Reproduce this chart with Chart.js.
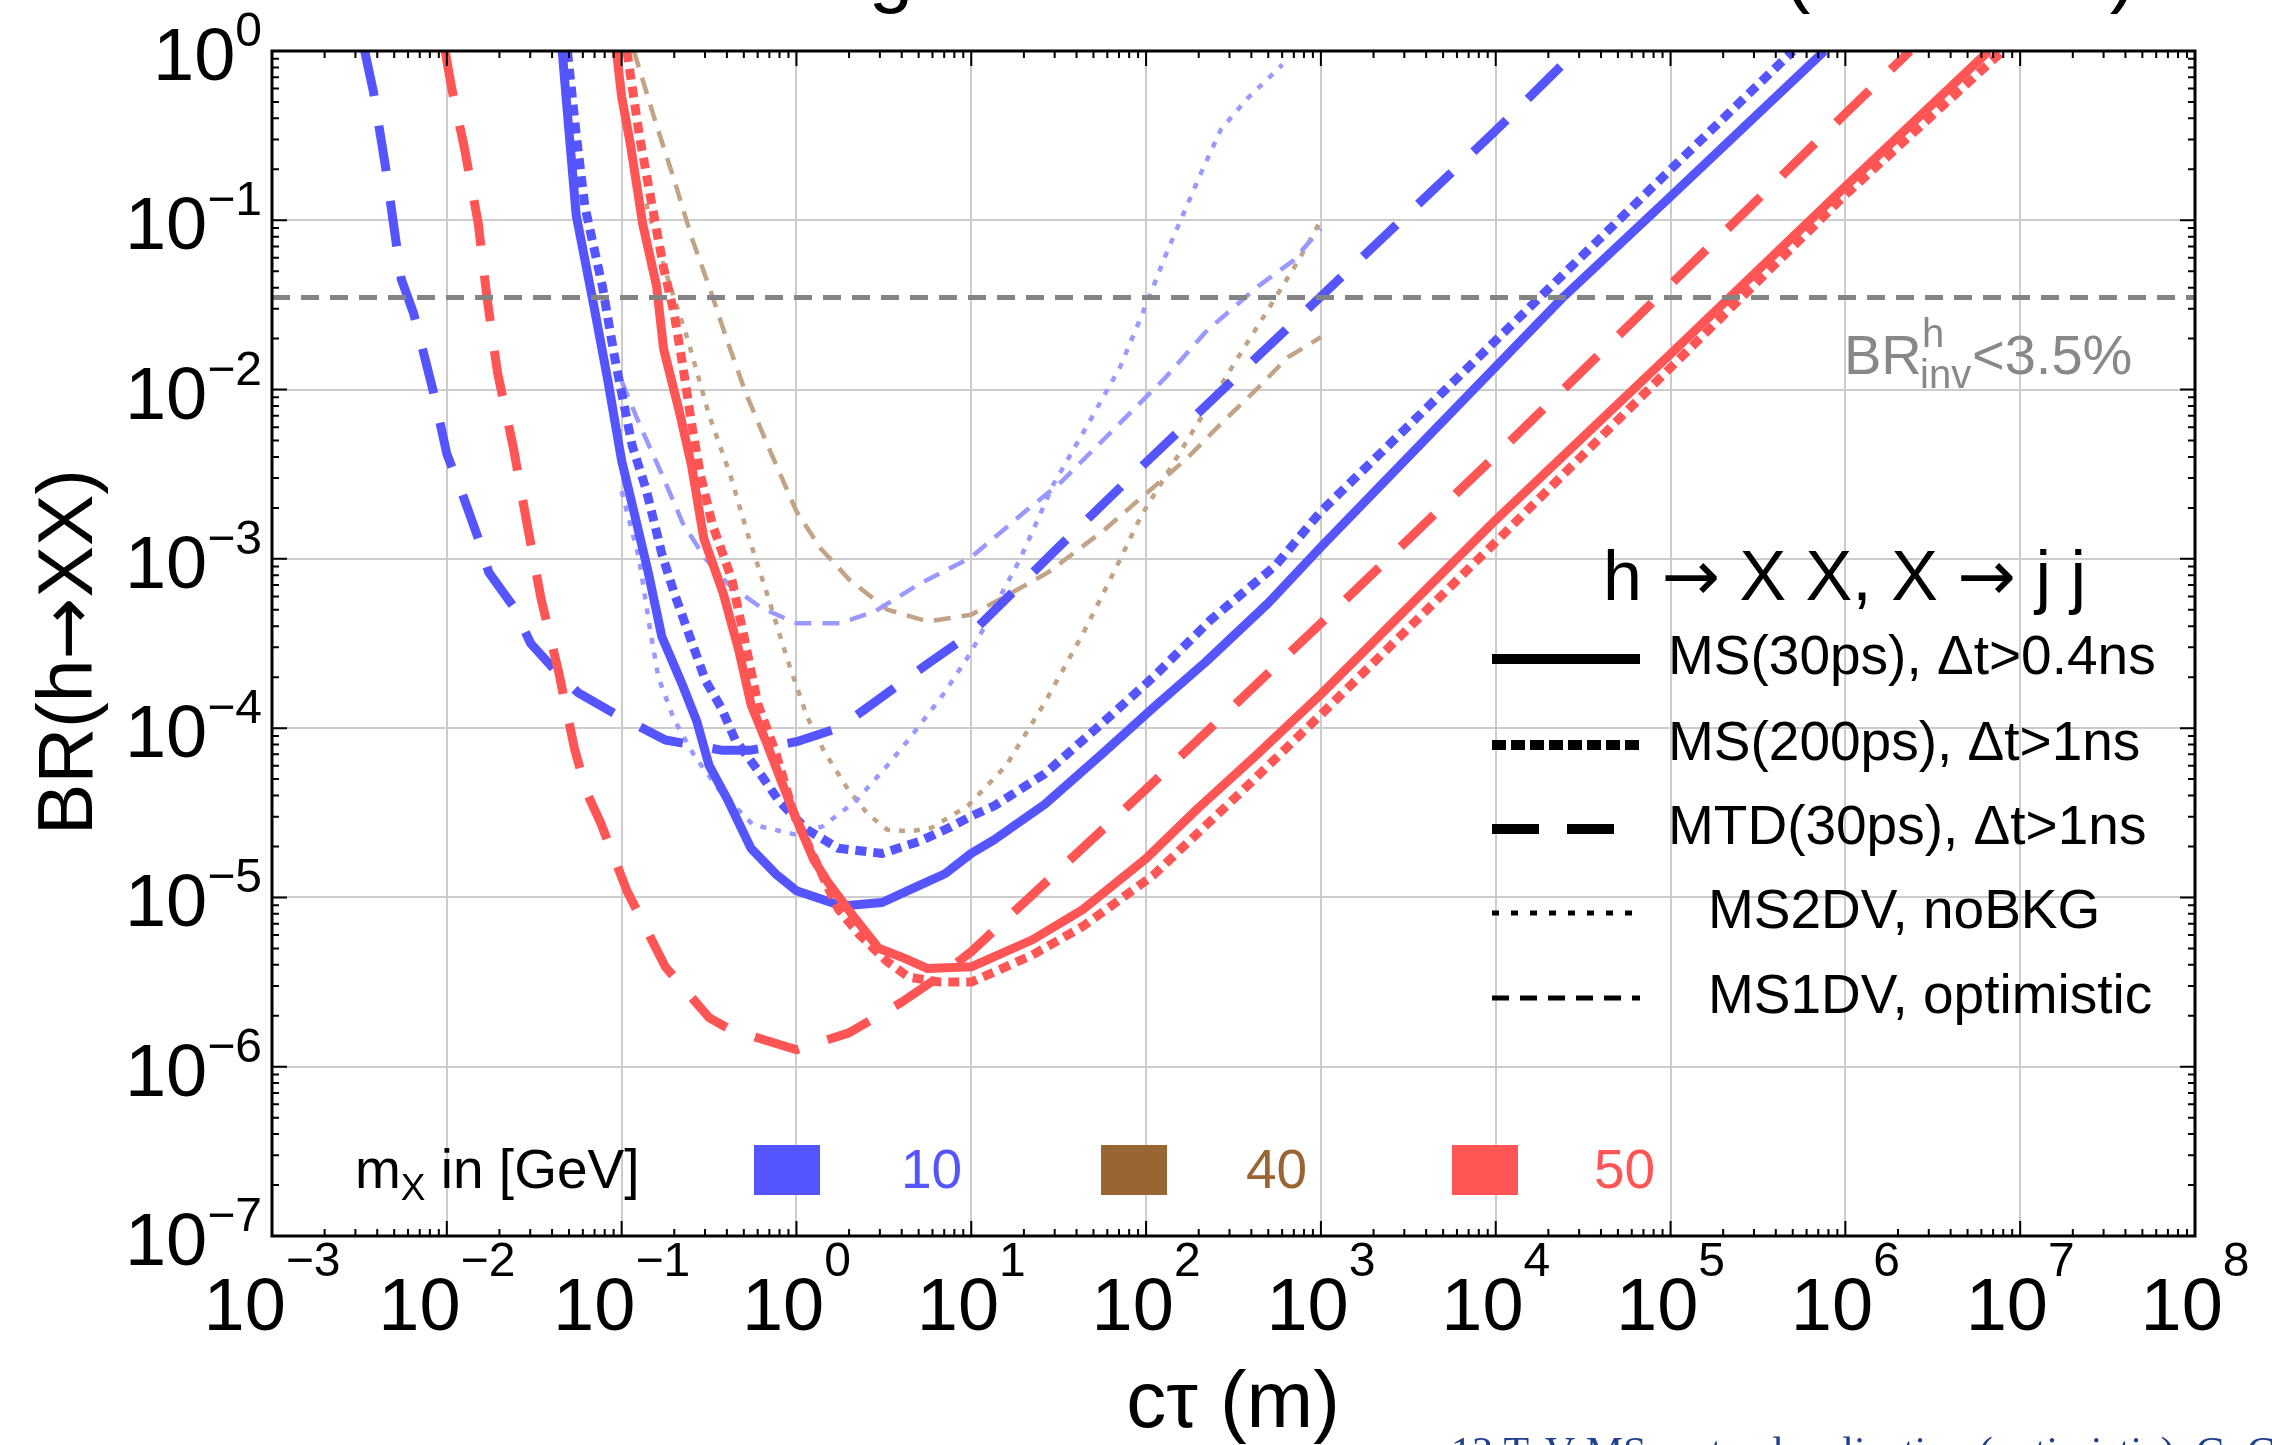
<!DOCTYPE html>
<html>
<head>
<meta charset="utf-8">
<script src="https://cdn.jsdelivr.net/npm/chart.js@4.4.1/dist/chart.umd.min.js"></script>
<style>
  html, body { margin: 0; padding: 0; background: #fff; }
  #wrap { width: 2272px; height: 1445px; }
</style>
</head>
<body>
<div id="wrap"><canvas id="brPlot" width="2272" height="1445" style="width:2272px;height:1445px"></canvas></div>
<script>
// All values are read off the log-log plot as exponents:
// ct = log10(c*tau / m), br = log10(BR(h -> XX))

const xDecades = [-3, -2, -1, 0, 1, 2, 3, 4, 5, 6, 7, 8];
const yDecades = [0, -1, -2, -3, -4, -5, -6, -7];

// mX = 10 GeV
const ct_ms30_10 = [-1.34, -1.3, -1.26, -1.16, -1.08, -1.0, -0.93, -0.85, -0.77, -0.65, -0.57, -0.5, -0.39, -0.26, -0.12, 0, 0.26, 0.49, 0.7, 0.85, 1.0, 1.13, 1.42, 1.75, 2.04, 2.34, 2.7, 3.0, 4.39, 5.0, 5.88];
const br_ms30_10 = [0, -0.49, -0.97, -1.5, -1.94, -2.42, -2.72, -3.07, -3.46, -3.75, -3.96, -4.22, -4.43, -4.71, -4.86, -4.96, -5.05, -5.03, -4.93, -4.86, -4.74, -4.66, -4.45, -4.15, -3.88, -3.61, -3.26, -2.93, -1.45, -0.86, 0];

const ct_ms200_10 = [-1.31, -1.26, -1.21, -1.11, -1.04, -0.99, -0.94, -0.86, -0.77, -0.7, -0.61, -0.52, -0.43, -0.35, -0.22, -0.1, 0.06, 0.24, 0.49, 0.7, 0.87, 1.0, 1.13, 1.42, 1.75, 2.04, 2.37, 2.74, 3.0, 4.0, 5.0, 5.7];
const br_ms200_10 = [0, -0.49, -0.92, -1.39, -1.81, -2.07, -2.33, -2.59, -2.97, -3.2, -3.46, -3.72, -3.88, -4.07, -4.25, -4.43, -4.6, -4.71, -4.74, -4.67, -4.59, -4.52, -4.46, -4.27, -3.97, -3.7, -3.36, -3.04, -2.72, -1.71, -0.7, 0];

const ct_mtd_10 = [-2.47, -2.42, -2.35, -2.26, -2.19, -2.08, -2.0, -1.91, -1.82, -1.76, -1.62, -1.52, -1.37, -1.25, -1.03, -0.75, -0.43, -0.26, 0, 0.24, 0.39, 0.59, 0.75, 1.0, 1.5, 2.0, 3.0, 4.0, 4.46];
const br_mtd_10 = [0, -0.24, -0.69, -1.35, -1.55, -2.0, -2.38, -2.62, -2.88, -3.08, -3.28, -3.5, -3.67, -3.79, -3.92, -4.07, -4.13, -4.13, -4.08, -4.0, -3.89, -3.74, -3.62, -3.44, -2.93, -2.43, -1.45, -0.47, 0];

const ct_2dv_10 = [-1.0, -0.9, -0.84, -0.79, -0.7, -0.58, -0.43, -0.25, 0, 0.15, 0.34, 0.52, 0.64, 0.84, 1.0, 1.13, 1.28, 1.47, 1.67, 1.85, 2.0, 2.11, 2.31, 2.43, 2.58, 2.78];
const br_2dv_10 = [-2.6, -3.0, -3.4, -3.7, -3.95, -4.17, -4.38, -4.57, -4.63, -4.58, -4.43, -4.22, -4.07, -3.8, -3.55, -3.29, -3.0, -2.56, -2.2, -1.87, -1.5, -1.21, -0.73, -0.46, -0.28, -0.08];

const ct_1dv_10 = [-1.0, -0.9, -0.77, -0.65, -0.52, -0.39, -0.2, 0, 0.25, 0.45, 0.7, 1.0, 1.32, 1.5, 1.82, 2.11, 2.34, 2.64, 2.84, 3.0];
const br_1dv_10 = [-1.95, -2.2, -2.5, -2.79, -3.0, -3.15, -3.29, -3.38, -3.38, -3.31, -3.15, -2.99, -2.71, -2.56, -2.23, -1.93, -1.66, -1.39, -1.24, -1.05];

// mX = 40 GeV
const ct_2dv_40 = [-0.86, -0.75, -0.62, -0.5, -0.38, -0.28, -0.17, -0.05, 0.06, 0.16, 0.3, 0.41, 0.52, 0.65, 0.77, 0.98, 1.2, 1.42, 1.64, 1.82, 1.97, 2.2, 2.49, 2.69, 2.87, 3.0];
const br_2dv_40 = [-0.9, -1.3, -1.71, -2.15, -2.5, -2.85, -3.2, -3.6, -3.93, -4.14, -4.37, -4.51, -4.6, -4.61, -4.59, -4.46, -4.22, -3.85, -3.44, -3.07, -2.75, -2.36, -1.87, -1.54, -1.24, -1.0];

const ct_1dv_40 = [-0.93, -0.8, -0.7, -0.6, -0.49, -0.39, -0.29, -0.16, 0, 0.14, 0.3, 0.52, 0.75, 1.0, 1.18, 1.44, 1.76, 1.96, 2.23, 2.43, 2.64, 2.81, 3.0];
const br_1dv_40 = [0, -0.44, -0.76, -1.1, -1.42, -1.73, -2.02, -2.34, -2.72, -2.94, -3.12, -3.3, -3.37, -3.33, -3.23, -3.08, -2.83, -2.65, -2.41, -2.2, -1.99, -1.81, -1.69];

// mX = 50 GeV
const ct_ms30_50 = [-1.03, -1.0, -0.95, -0.88, -0.8, -0.76, -0.67, -0.6, -0.53, -0.42, -0.33, -0.26, -0.17, -0.08, 0, 0.1, 0.18, 0.31, 0.47, 0.62, 0.75, 1.0, 1.35, 1.64, 2.0, 2.3, 2.62, 3.0, 4.0, 5.0, 6.0, 6.82];
const br_ms30_50 = [0, -0.27, -0.55, -1.02, -1.39, -1.76, -2.13, -2.45, -2.88, -3.2, -3.54, -3.86, -4.09, -4.33, -4.54, -4.78, -4.91, -5.09, -5.3, -5.36, -5.42, -5.41, -5.25, -5.07, -4.77, -4.47, -4.17, -3.8, -2.77, -1.79, -0.8, 0];

const ct_ms200_50 = [-0.97, -0.9, -0.83, -0.76, -0.7, -0.65, -0.6, -0.55, -0.48, -0.37, -0.3, -0.22, -0.12, -0.02, 0.08, 0.24, 0.36, 0.52, 0.64, 0.82, 1.0, 1.35, 1.64, 2.04, 2.5, 3.0, 4.0, 5.0, 6.0, 6.9];
const br_ms200_50 = [0, -0.49, -0.89, -1.28, -1.55, -1.86, -2.2, -2.5, -2.8, -3.12, -3.46, -3.86, -4.14, -4.49, -4.72, -5.07, -5.22, -5.38, -5.47, -5.5, -5.5, -5.34, -5.17, -4.87, -4.42, -3.92, -2.9, -1.87, -0.85, 0];

const ct_mtd_50 = [-2.01, -1.97, -1.9, -1.82, -1.77, -1.71, -1.62, -1.54, -1.46, -1.36, -1.27, -1.2, -1.12, -0.97, -0.75, -0.5, -0.38, 0, 0.3, 0.6, 0.8, 1.0, 2.0, 3.0, 4.0, 5.0, 6.0, 6.37];
const br_mtd_50 = [0, -0.23, -0.57, -1.02, -1.46, -1.9, -2.34, -2.8, -3.24, -3.67, -4.12, -4.38, -4.56, -4.96, -5.41, -5.71, -5.78, -5.9, -5.8, -5.62, -5.48, -5.32, -4.36, -3.38, -2.39, -1.38, -0.37, 0];

// invisible Higgs width bound, log10(0.035)
const brInv = -1.456;

const blue = '#5555ff';
const red = '#ff5555';
const brown = '#996633';
const lightBlue = '#9999ff';
const tan = '#c2a385';

// line styles (width, dash)
const SOLID = [9, []];
const THICK_DOT = [9, [11, 7]];
const LONG_DASH = [9, [46, 30]];
const THIN_DOT = [4.5, [6, 9]];
const THIN_DASH = [4.5, [17, 11]];

function curve(ct, br, color, style, order) {
  return {
    data: ct.map((x, i) => ({ x: x, y: br[i] })),
    borderColor: color,
    borderWidth: style[0],
    borderDash: style[1],
    borderCapStyle: 'butt',
    borderJoinStyle: 'round',
    pointRadius: 0,
    fill: false,
    tension: 0,
    clip: 0,
    order: order,
  };
}

const datasets = [
  {
    data: [{ x: -3, y: brInv }, { x: 8, y: brInv }],
    borderColor: '#848484',
    borderWidth: 5,
    borderDash: [18, 11],
    borderCapStyle: 'butt',
    pointRadius: 0,
    clip: 0,
    order: 0,
  },
  curve(ct_ms30_50, br_ms30_50, red, SOLID, 1),
  curve(ct_ms200_50, br_ms200_50, red, THICK_DOT, 1),
  curve(ct_mtd_50, br_mtd_50, red, LONG_DASH, 1),
  curve(ct_ms30_10, br_ms30_10, blue, SOLID, 2),
  curve(ct_ms200_10, br_ms200_10, blue, THICK_DOT, 2),
  curve(ct_mtd_10, br_mtd_10, blue, LONG_DASH, 2),
  curve(ct_2dv_10, br_2dv_10, lightBlue, THIN_DOT, 3),
  curve(ct_1dv_10, br_1dv_10, lightBlue, THIN_DASH, 3),
  curve(ct_2dv_40, br_2dv_40, tan, THIN_DOT, 3),
  curve(ct_1dv_40, br_1dv_40, tan, THIN_DASH, 3),
];

const FONT = '"Liberation Sans", Arial, sans-serif';
const ARROW_FONT = '"DejaVu Sans", sans-serif';

function expLabel(n) {
  return n < 0 ? '\u2212' + (-n) : String(n);
}

// text made of runs in different fonts (arrows come from DejaVu Sans)
function drawRuns(g, runs, x, y, centered) {
  let total = 0;
  runs.forEach(function (r) {
    g.font = r[1];
    total += g.measureText(r[0]).width;
  });
  let cx = centered ? x - total / 2 : x;
  g.textAlign = 'left';
  runs.forEach(function (r) {
    g.font = r[1];
    g.fillText(r[0], cx, y);
    cx += g.measureText(r[0]).width;
  });
}

const decorations = {
  id: 'decorations',
  afterDraw: function (chart) {
    const g = chart.ctx;
    const a = chart.chartArea;
    const sx = chart.scales.x;
    const sy = chart.scales.y;
    g.save();

    // ticks on all four sides, pointing inwards
    g.strokeStyle = '#000';
    g.lineWidth = 2;
    g.setLineDash([]);
    g.beginPath();
    xDecades.forEach(function (n) {
      for (let k = 1; k <= 9; k++) {
        const v = n + Math.log10(k);
        if (v > 8) break;
        const px = sx.getPixelForValue(v);
        const len = k === 1 ? 15 : 7;
        g.moveTo(px, a.bottom);
        g.lineTo(px, a.bottom - len);
        g.moveTo(px, a.top);
        g.lineTo(px, a.top + len);
      }
    });
    yDecades.forEach(function (n) {
      for (let k = 1; k <= 9; k++) {
        const v = n + Math.log10(k);
        if (v > 0) break;
        const py = sy.getPixelForValue(v);
        const len = k === 1 ? 15 : 7;
        g.moveTo(a.left, py);
        g.lineTo(a.left + len, py);
        g.moveTo(a.right, py);
        g.lineTo(a.right - len, py);
      }
    });
    g.stroke();

    // frame
    g.lineWidth = 3;
    g.strokeRect(a.left, a.top, a.right - a.left, a.bottom - a.top);

    // tick labels 10^n
    g.fillStyle = '#000';
    g.textAlign = 'left';
    g.textBaseline = 'alphabetic';
    const baseFont = '74px ' + FONT;
    const supFont = '48px ' + FONT;
    xDecades.forEach(function (n) {
      const e = expLabel(n);
      g.font = baseFont;
      const wb = g.measureText('10').width;
      g.font = supFont;
      const we = g.measureText(e).width;
      const left = sx.getPixelForValue(n) - (wb + we) / 2;
      g.font = baseFont;
      g.fillText('10', left, 1330);
      g.font = supFont;
      g.fillText(e, left + wb, 1276);
    });
    yDecades.forEach(function (n) {
      const e = expLabel(n);
      const py = sy.getPixelForValue(n);
      g.font = supFont;
      const we = g.measureText(e).width;
      g.font = baseFont;
      const wb = g.measureText('10').width;
      g.fillText('10', 262 - we - wb, py + 29);
      g.font = supFont;
      g.fillText(e, 262 - we, py - 5);
    });

    // axis titles
    g.font = '80px ' + FONT;
    g.textAlign = 'center';
    g.fillText('c\u03c4 (m)', 1233, 1427);
    g.save();
    g.translate(92, 652);
    g.rotate(-Math.PI / 2);
    drawRuns(g, [['BR(h', '77px ' + FONT], ['\u2192', '74px ' + ARROW_FONT], ['XX)', '77px ' + FONT]], 0, 0, true);
    g.restore();

    // title line (only the descenders are inside the picture)
    g.font = '80px ' + FONT;
    g.textAlign = 'center';
    g.fillText('g', 891, -3);
    g.fillText('(', 1797, -3);
    g.fillText(')', 2123, -3);

    // BR_inv label
    g.fillStyle = '#888888';
    g.textAlign = 'left';
    g.font = '56px ' + FONT;
    g.fillText('BR', 1844, 374);
    g.font = '40px ' + FONT;
    g.fillText('h', 1922, 347);
    g.fillText('inv', 1920, 388);
    g.font = '56px ' + FONT;
    g.fillText('<3.5%', 1972, 374);

    // legend: line styles
    g.fillStyle = '#000';
    const tf = '70px ' + FONT;
    const af = '70px ' + ARROW_FONT;
    drawRuns(g, [['h ', tf], ['\u2192', af], [' X X, X ', tf], ['\u2192', af], [' j j', tf]], 1603, 600, false);
    const rows = [
      { y: 659, w: 10, dash: [], text: 'MS(30ps), \u0394t>0.4ns', tx: 1668 },
      { y: 745, w: 10, dash: [14, 5], text: 'MS(200ps), \u0394t>1ns', tx: 1668 },
      { y: 829, w: 10, dash: [47, 28], text: 'MTD(30ps), \u0394t>1ns', tx: 1668 },
      { y: 913, w: 5, dash: [7, 12], text: 'MS2DV, noBKG', tx: 1708 },
      { y: 998, w: 5, dash: [17, 11], text: 'MS1DV, optimistic', tx: 1708 },
    ];
    g.textBaseline = 'middle';
    g.font = '55px ' + FONT;
    rows.forEach(function (r) {
      g.beginPath();
      g.lineWidth = r.w;
      g.lineCap = 'butt';
      g.setLineDash(r.dash);
      g.moveTo(1492, r.y);
      g.lineTo(1640, r.y);
      g.stroke();
      g.setLineDash([]);
      g.fillText(r.text, r.tx, r.y);
    });

    // legend: masses
    g.textBaseline = 'alphabetic';
    g.font = '55px ' + FONT;
    g.fillText('m', 355, 1188);
    let wx = 355 + g.measureText('m').width;
    g.font = '37px ' + FONT;
    g.fillText('X', wx, 1200);
    wx += g.measureText('X').width;
    g.font = '55px ' + FONT;
    g.fillText(' in [GeV]', wx, 1188);
    const masses = [
      { label: '10', color: blue, box: 754, tx: 901 },
      { label: '40', color: brown, box: 1101, tx: 1246 },
      { label: '50', color: red, box: 1452, tx: 1594 },
    ];
    masses.forEach(function (m) {
      g.fillStyle = m.color;
      g.fillRect(m.box, 1145, 66, 50);
      g.fillText(m.label, m.tx, 1188);
    });

    // caption cut by the bottom edge
    g.fillStyle = '#1f3f8f';
    g.font = '42px "Liberation Serif", serif';
    g.fillText('13 TeV MS vertex localization (optimistic), G. Cottin', 1451, 1466);

    g.restore();
  },
};

const plotCanvas = document.getElementById('brPlot');

new Chart(plotCanvas, {
  type: 'line',
  data: { datasets: datasets },
  options: {
    responsive: false,
    animation: false,
    events: [],
    layout: { padding: { top: 51, right: 77, left: 0, bottom: 0 } },
    scales: {
      x: {
        type: 'linear',
        min: -3,
        max: 8,
        afterFit: function (scale) { scale.height = 209; },
        ticks: { display: false, stepSize: 1 },
        grid: { color: '#cccccc', lineWidth: 2, drawTicks: false },
        border: { display: false },
      },
      y: {
        type: 'linear',
        min: -7,
        max: 0,
        afterFit: function (scale) { scale.width = 272; },
        ticks: { display: false, stepSize: 1 },
        grid: { color: '#cccccc', lineWidth: 2, drawTicks: false },
        border: { display: false },
      },
    },
    plugins: {
      legend: { display: false },
      tooltip: { enabled: false },
    },
  },
  plugins: [decorations],
});
</script>
</body>
</html>
